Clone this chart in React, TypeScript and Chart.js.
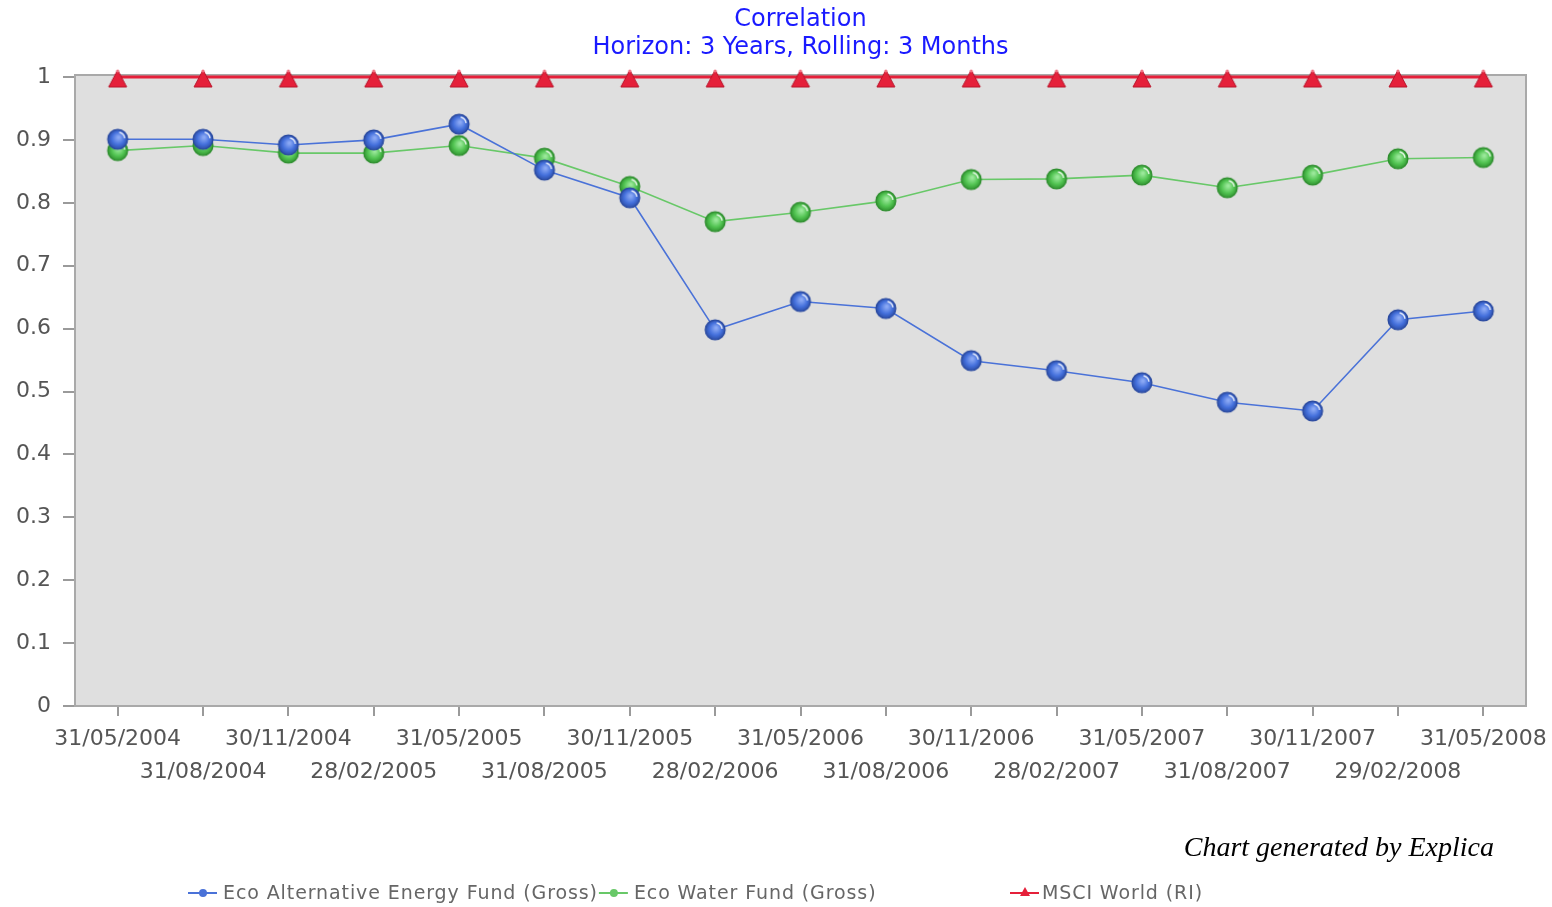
import React, { useEffect, useRef } from "react";
import { Chart, registerables } from "chart.js";

Chart.register(...registerables);

const dates = [
  "31/05/2004", "31/08/2004", "30/11/2004", "28/02/2005", "31/05/2005",
  "31/08/2005", "30/11/2005", "28/02/2006", "31/05/2006", "31/08/2006",
  "30/11/2006", "28/02/2007", "31/05/2007", "31/08/2007", "30/11/2007",
  "29/02/2008", "31/05/2008",
];

const altEnergy = [
  0.901, 0.901, 0.892, 0.9, 0.925, 0.852, 0.808, 0.598, 0.643, 0.632,
  0.549, 0.533, 0.514, 0.483, 0.469, 0.614, 0.628,
];

const water = [
  0.883, 0.891, 0.879, 0.879, 0.891, 0.871, 0.826, 0.77, 0.785, 0.803,
  0.837, 0.838, 0.844, 0.824, 0.844, 0.87, 0.872,
];

const msci = [1, 1, 1, 1, 1, 1, 1, 1, 1, 1, 1, 1, 1, 1, 1, 1, 1];

const seriesNames = [
  "Eco Alternative Energy Fund (Gross)",
  "Eco Water Fund (Gross)",
  "MSCI World (RI)",
];

const titleLines = ["Correlation", "Horizon: 3 Years, Rolling: 3 Months"];
const creditText = "Chart generated by Explica";

const BLUE = "#4a72d8";
const GREEN = "#68c868";
const RED = "#e5203a";

function makeBall(base: string, light: string, dark: string) {
  const c = document.createElement("canvas");
  c.width = 24;
  c.height = 24;
  const g = c.getContext("2d")!;
  const cx = 12, cy = 12, r = 10.5;
  const grad = g.createRadialGradient(cx + 1, cy - 2, 1, cx, cy, r);
  grad.addColorStop(0, light);
  grad.addColorStop(0.55, base);
  grad.addColorStop(1, dark);
  g.beginPath();
  g.arc(cx, cy, r - 0.6, 0, Math.PI * 2);
  g.fillStyle = grad;
  g.fill();
  g.lineWidth = 1.3;
  g.strokeStyle = dark;
  g.stroke();
  g.beginPath();
  g.arc(cx, cy, r - 3.4, -1.35, -0.15);
  g.strokeStyle = "rgba(255,255,255,0.85)";
  g.lineWidth = 1.5;
  g.stroke();
  return c;
}

function makeTriangle(color: string) {
  const c = document.createElement("canvas");
  c.width = 24;
  c.height = 24;
  const g = c.getContext("2d")!;
  g.beginPath();
  g.moveTo(12, 5);
  g.lineTo(21, 22);
  g.lineTo(3, 22);
  g.closePath();
  g.fillStyle = color;
  g.fill();
  g.strokeStyle = "#b8152b";
  g.lineWidth = 1;
  g.stroke();
  g.beginPath();
  g.arc(12, 6, 1.6, 0, Math.PI * 2);
  g.fillStyle = "#f07080";
  g.fill();
  return c;
}

const plotFrame = {
  id: "plotFrame",
  beforeDatasetsDraw(chart: any) {
    const { ctx, chartArea: a } = chart;
    ctx.save();
    ctx.fillStyle = "#dfdfdf";
    ctx.fillRect(a.left, a.top - 2, a.right - a.left, a.bottom - a.top + 2);
    ctx.strokeStyle = "#a9a9a9";
    ctx.lineWidth = 2;
    ctx.strokeRect(a.left, a.top - 2, a.right - a.left, a.bottom - a.top + 2);
    ctx.restore();
  },
};

const extras = {
  id: "extras",
  afterDraw(chart: any) {
    const { ctx } = chart;
    ctx.save();
    // credit
    ctx.font = 'italic 28px "Liberation Serif"';
    ctx.fillStyle = "#000";
    ctx.textAlign = "right";
    ctx.textBaseline = "middle";
    ctx.fillText(creditText, 1494, 849);

    // legend
    ctx.font = '19px "DejaVu Sans"';
    (ctx as any).letterSpacing = "0.9px";
    ctx.textAlign = "left";
    const y = 893;
    const colors = [BLUE, GREEN, RED];
    let x = 188;
    seriesNames.forEach((name, i) => {
      if (i === 2) x = 1010;
      const col = colors[i];
      ctx.strokeStyle = col;
      ctx.lineWidth = 2;
      ctx.beginPath();
      ctx.moveTo(x, y);
      ctx.lineTo(x + 29, y);
      ctx.stroke();
      ctx.fillStyle = col;
      ctx.beginPath();
      if (i === 2) {
        ctx.moveTo(x + 15, y - 6);
        ctx.lineTo(x + 20, y + 3);
        ctx.lineTo(x + 10, y + 3);
        ctx.closePath();
      } else {
        ctx.arc(x + 15, y, 4, 0, Math.PI * 2);
      }
      ctx.fill();
      ctx.fillStyle = "#666";
      const tx = x + (i === 2 ? 32 : 35);
      ctx.fillText(name, tx, y + 1);
      x = tx + ctx.measureText(name).width + 1;
    });
    ctx.restore();
  },
};

export default function App() {
  const ref = useRef<HTMLCanvasElement | null>(null);

  useEffect(() => {
    if (!ref.current) return;
    const blueBall = makeBall("#4470dc", "#8aa8f4", "#2a4aa0");
    const greenBall = makeBall("#52c452", "#9ae89a", "#2e8e2e");
    const tri = makeTriangle(RED);

    const chart = new Chart(ref.current, {
      type: "line",
      data: {
        labels: dates,
        datasets: [
          {
            label: seriesNames[0],
            data: altEnergy,
            borderColor: BLUE,
            borderWidth: 1.6,
            pointStyle: blueBall as any,
            pointRadius: 10,
            clip: false as any,
          },
          {
            label: seriesNames[1],
            data: water,
            borderColor: GREEN,
            borderWidth: 1.6,
            pointStyle: greenBall as any,
            pointRadius: 10,
            clip: false as any,
          },
          {
            label: seriesNames[2],
            data: msci,
            borderColor: RED,
            borderWidth: 3,
            pointStyle: tri as any,
            pointRadius: 10,
            clip: false as any,
          },
        ],
      },
      options: {
        responsive: false,
        animation: false,
        events: [],
        layout: { padding: { left: 0, right: 26, top: 0, bottom: 0 } },
        plugins: {
          legend: { display: false },
          tooltip: { enabled: false },
          title: {
            display: true,
            fullSize: false,
            text: titleLines,
            color: "#1a1aff",
            font: { family: '"DejaVu Sans"', size: 24, weight: "normal", lineHeight: 1.2 },
            padding: { top: 5, bottom: 14.4 },
          },
        },
        scales: {
          x: {
            offset: true,
            grid: {
              drawOnChartArea: false,
              drawTicks: true,
              tickLength: 10,
              color: "#9a9a9a",
              lineWidth: 2,
            },
            border: { display: false },
            ticks: {
              autoSkip: false,
              maxRotation: 0,
              minRotation: 0,
              padding: 7,
              color: "#555",
              font: { family: '"DejaVu Sans"', size: 22, lineHeight: 1.5 },
              callback: (_v: any, i: number) => (i % 2 === 0 ? dates[i] : ["", dates[i]]),
            },
            afterFit: (s: any) => {
              s.height = 201;
              s.paddingLeft = 0;
              s.paddingRight = 0;
            },
          },
          y: {
            min: 0,
            max: 1,
            grid: {
              drawOnChartArea: false,
              drawTicks: true,
              tickLength: 12,
              color: "#9a9a9a",
              lineWidth: 2,
            },
            border: { display: false },
            ticks: {
              stepSize: 0.1,
              padding: 12,
              color: "#555",
              font: { family: '"DejaVu Sans"', size: 22 },
              callback: (v: any) => String(Number(Number(v).toFixed(1))),
            },
            afterFit: (s: any) => {
              s.width = 75;
            },
          },
        },
      },
      plugins: [plotFrame, extras],
    });
    return () => chart.destroy();
  }, []);

  return (
    <div style={{ position: "fixed", left: 0, top: 0, width: 1552, height: 907, background: "#fff" }}>
      <canvas ref={ref} width={1552} height={907} style={{ display: "block" }} />
    </div>
  );
}
